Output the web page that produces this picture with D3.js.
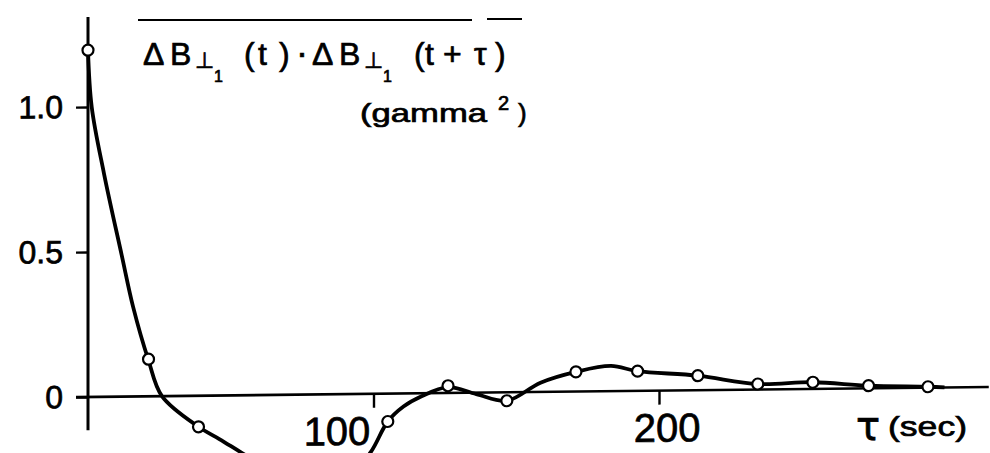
<!DOCTYPE html>
<html>
<head>
<meta charset="utf-8">
<script src="https://cdn.jsdelivr.net/npm/d3@7"></script>
<style>
  body { margin: 0; background: #fff; }
  text { fill: #000; stroke: #000; stroke-width: 0.7px; }
</style>
</head>
<body>
<svg id="chart" width="990" height="453"></svg>
<script>
// measured points (lag in sec, correlation in gamma^2)
const pointTau = [0, 21.2, 38.7, 105, 126.1, 146.7, 170.9, 192.5, 213.6, 234.6, 253.9, 273.4, 294.2];
const pointVal = [1.196, 0.128, -0.107, -0.096, 0.025, -0.029, 0.068, 0.068, 0.05, 0.019, 0.023, 0.009, 0.003];

// hand drawn smooth line (dip below the frame is guessed)
const curveTau = [0, 1.3, 5.6, 11.8, 15.8, 21.1, 25.9, 38.7, 46, 53.3, 64, 78, 90, 98.9, 105,
  110.5, 116.5, 126.1, 136, 146.7, 158.5, 170.9, 183.2, 192.5, 213.6, 234.6, 253.9, 273.4, 294.2, 300];
const curveVal = [1.196, 1.0, 0.77, 0.488, 0.309, 0.127, 0, -0.107, -0.15, -0.195, -0.26, -0.32, -0.3, -0.203, -0.096,
  -0.045, -0.012, 0.02, -0.005, -0.029, 0.032, 0.068, 0.087, 0.068, 0.05, 0.019, 0.023, 0.009, 0.003, 0];

const yTicks = [0, 0.5, 1.0];
const xTicks = [100, 200];

const width = 990, height = 453;
const x = d3.scaleLinear().domain([0, 200]).range([88, 659]);
const y = d3.scaleLinear().domain([0, 1]).range([397, 107]);

const svg = d3.select("#chart");
svg.append("rect").attr("width", width).attr("height", height).attr("fill", "#fff");

// the scan is a bit skewed, the zero line climbs ~10px across the page
const plot = svg.append("g")
  .attr("transform", `translate(${x(0)},${y(0)}) skewY(-0.64) translate(${-x(0)},${-y(0)})`);

// axis lines
plot.append("line")
  .attr("x1", x(0)).attr("x2", x(0))
  .attr("y1", y(1.31)).attr("y2", y(-0.115))
  .attr("stroke", "#000").attr("stroke-width", 3);
plot.append("line")
  .attr("x1", x(-4.2)).attr("x2", x(315.5))
  .attr("y1", y(0)).attr("y2", y(0))
  .attr("stroke", "#000").attr("stroke-width", 2.6);

const sans = "Liberation Sans, Arial, sans-serif";

// y ticks
const yAxis = plot.append("g")
  .attr("transform", `translate(${x(0)},0)`)
  .call(d3.axisLeft(y).tickValues(yTicks).tickSize(12).tickPadding(13)
    .tickFormat((d) => (d === 0 ? "0" : d3.format(".1f")(d))));
yAxis.select(".domain").remove();
yAxis.selectAll("line").attr("stroke", "#000").attr("stroke-width", 2.4);
yAxis.selectAll("text")
  .attr("font-family", sans)
  .attr("font-size", 32)
  .attr("fill", "#000");

// x ticks, labels sit off the tick in the original
const xShift = { 100: -37, 200: 7.5 };
const xAxis = plot.append("g")
  .attr("transform", `translate(0,${y(0)})`)
  .call(d3.axisBottom(x).tickValues(xTicks).tickSize(14).tickFormat(d3.format("d")));
xAxis.select(".domain").remove();
xAxis.selectAll("line").attr("stroke", "#000").attr("stroke-width", 2.4);
xAxis.selectAll("text")
  .attr("font-family", sans)
  .attr("font-size", 40)
  .attr("fill", "#000")
  .attr("dy", null)
  .attr("y", 51)
  .attr("dx", (d) => xShift[d]);

// smooth curve
const line = d3.line()
  .x((d) => x(d[0]))
  .y((d) => y(d[1]))
  .curve(d3.curveCatmullRom.alpha(0.5));
plot.append("path")
  .datum(curveTau.map((t, i) => [t, curveVal[i]]))
  .attr("d", line)
  .attr("fill", "none")
  .attr("stroke", "#000")
  .attr("stroke-width", 3.8)
  .attr("stroke-linejoin", "round");

// open circle markers
plot.selectAll("circle.pt")
  .data(pointTau.map((t, i) => [t, pointVal[i]]))
  .enter()
  .append("circle")
  .attr("class", "pt")
  .attr("cx", (d) => x(d[0]))
  .attr("cy", (d) => y(d[1]))
  .attr("r", 5.5)
  .attr("fill", "#fff")
  .attr("stroke", "#000")
  .attr("stroke-width", 2.2);

// title  ΔB⊥1(t)·ΔB⊥1(t+τ) with overbar
const titleParts = [
  { t: "Δ", x: 143, y: 65, s: 32 },
  { t: "B", x: 170, y: 65, s: 32 },
  { t: "⊥", x: 195, y: 68, s: 22, f: "DejaVu Sans" },
  { t: "1", x: 214, y: 82, s: 16 },
  { t: "(", x: 244, y: 65, s: 32 },
  { t: "t", x: 258, y: 65, s: 32 },
  { t: ")", x: 279, y: 65, s: 32 },
  { t: "·", x: 296, y: 65, s: 36 },
  { t: "Δ", x: 312, y: 65, s: 32 },
  { t: "B", x: 339, y: 65, s: 32 },
  { t: "⊥", x: 364, y: 68, s: 22, f: "DejaVu Sans" },
  { t: "1", x: 383, y: 82, s: 16 },
  { t: "(", x: 414, y: 65, s: 32 },
  { t: "t", x: 425, y: 65, s: 32 },
  { t: "+", x: 443, y: 65, s: 32 },
  { t: "τ", x: 474, y: 65, s: 32 },
  { t: ")", x: 495, y: 65, s: 32 },
];
svg.append("g")
  .selectAll("text")
  .data(titleParts)
  .enter()
  .append("text")
  .attr("x", (d) => d.x)
  .attr("y", (d) => d.y)
  .attr("font-size", (d) => d.s)
  .attr("font-family", (d) => d.f || sans)
  .text((d) => d.t);

svg.append("line").attr("x1", 138).attr("x2", 472).attr("y1", 20).attr("y2", 20)
  .attr("stroke", "#000").attr("stroke-width", 2);
svg.append("line").attr("x1", 487).attr("x2", 522).attr("y1", 19).attr("y2", 19)
  .attr("stroke", "#000").attr("stroke-width", 2);

// units
svg.append("text").attr("x", 360).attr("y", 122).attr("font-size", 26).attr("font-family", sans)
  .attr("textLength", 127).attr("lengthAdjust", "spacingAndGlyphs").text("(gamma");
svg.append("text").attr("x", 498).attr("y", 110).attr("font-size", 20).attr("font-family", sans).text("2");
svg.append("text").attr("x", 518).attr("y", 122).attr("font-size", 26).attr("font-family", sans).text(")");

// x axis title
svg.append("text").attr("x", 856).attr("y", 440).attr("font-size", 40).attr("font-family", "DejaVu Sans").text("τ");
svg.append("text").attr("x", 888).attr("y", 436).attr("font-size", 27).attr("font-family", sans)
  .attr("textLength", 79).attr("lengthAdjust", "spacingAndGlyphs").text("(sec)");
</script>
</body>
</html>
